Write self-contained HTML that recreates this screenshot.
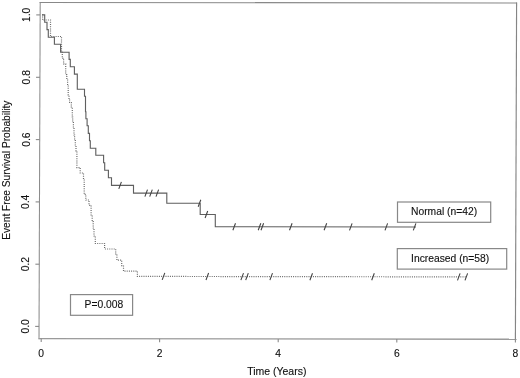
<!DOCTYPE html>
<html><head><meta charset="utf-8"><style>
html,body{margin:0;padding:0;background:#fff;}
svg{display:block;}
.t{font-family:"Liberation Sans",sans-serif;font-size:10.3px;fill:#111;stroke:#111;stroke-width:0.12px;}
.ax{stroke:#8a8a8a;stroke-width:1.1;fill:none;}
.sl{stroke:#5e5e5e;stroke-width:1.12;fill:none;}
.dl{stroke:#6a6a6a;stroke-width:1.2;fill:none;stroke-dasharray:1 1.2;}
.ck{stroke:#444;stroke-width:1.1;fill:none;}
.bx{stroke:#888;stroke-width:1.2;fill:#fff;}
</style></head><body>
<svg width="520" height="378" viewBox="0 0 520 378">
<defs><filter id="bl" x="0" y="0" width="1" height="1"><feGaussianBlur stdDeviation="0.35"/></filter></defs>
<rect width="520" height="378" fill="#fff"/>
<g filter="url(#bl)">
<rect width="520" height="378" fill="#fff"/>
<line x1="40.2" y1="2" x2="39.0" y2="339.3" stroke="#8c8c8c" stroke-width="1.05"/>
<line x1="38.6" y1="338.6" x2="516.6" y2="339.2" stroke="#9a9a9a" stroke-width="1.4"/>
<line x1="39.6" y1="2.5" x2="517" y2="3.0" stroke="#888" stroke-width="1.2"/>
<line x1="516.6" y1="2.4" x2="515.4" y2="339.3" stroke="#858585" stroke-width="1.15"/>
<line x1="36.25" y1="14.9" x2="40.15" y2="14.9" class="ax"/>
<text transform="translate(30.08,14.9) rotate(-90)" text-anchor="middle" class="t">1.0</text>
<line x1="36.03" y1="77.3" x2="39.93" y2="77.3" class="ax"/>
<text transform="translate(29.80,77.3) rotate(-90)" text-anchor="middle" class="t">0.8</text>
<line x1="35.81" y1="139.6" x2="39.71" y2="139.6" class="ax"/>
<text transform="translate(29.52,139.6) rotate(-90)" text-anchor="middle" class="t">0.6</text>
<line x1="35.59" y1="201.9" x2="39.49" y2="201.9" class="ax"/>
<text transform="translate(29.24,201.9) rotate(-90)" text-anchor="middle" class="t">0.4</text>
<line x1="35.37" y1="264.2" x2="39.27" y2="264.2" class="ax"/>
<text transform="translate(28.96,264.2) rotate(-90)" text-anchor="middle" class="t">0.2</text>
<line x1="35.15" y1="326.4" x2="39.05" y2="326.4" class="ax"/>
<text transform="translate(28.68,326.4) rotate(-90)" text-anchor="middle" class="t">0.0</text>
<line x1="41.2" y1="338.60" x2="41.2" y2="342.00" class="ax"/>
<text x="41.2" y="357" text-anchor="middle" class="t">0</text>
<line x1="159.6" y1="338.75" x2="159.6" y2="342.15" class="ax"/>
<text x="159.6" y="357" text-anchor="middle" class="t">2</text>
<line x1="278.2" y1="338.90" x2="278.2" y2="342.30" class="ax"/>
<text x="278.2" y="357" text-anchor="middle" class="t">4</text>
<line x1="396.8" y1="339.05" x2="396.8" y2="342.45" class="ax"/>
<text x="396.8" y="357" text-anchor="middle" class="t">6</text>
<line x1="515.4" y1="339.20" x2="515.4" y2="342.60" class="ax"/>
<text x="515.4" y="357" text-anchor="middle" class="t">8</text>
<text x="276.8" y="375.2" text-anchor="middle" class="t" style="font-size:10.5px">Time (Years)</text>
<text transform="translate(10.3,170.2) rotate(-90)" text-anchor="middle" class="t" style="font-size:10.2px">Event Free Survival Probability</text>
<path d="M42,14.9 H44.7 V22.3 H47 V29.6 H48.3 V37.2 H54.4 V44.3 H60.6 V52.3 H69.1 V59.4 H70.3 V66.8 H74.4 V74.1 H77.3 V89.2 H84.5 V96.3 H85.5 V111.7 H85.9 V118.8 H87.1 V125.8 H88.3 V133.4 H89.5 V140.8 H90.3 V148.2 H95.8 V155.3 H103.6 V162.7 H104.7 V170.3 H108.4 V177.7 H111.5 V185.4 H133.5 V193.1 H166.8 V203.3 H200.2 V214.5 H215.3 V226.7 L416,226.95" class="sl"/>
<path d="M42,14.9 H42.6 V20 H50.5 V36.5 H61.5 V52.4 H62.3 V58.3 H63.6 V63.9 H65.7 V74.6 H66.8 V80 H67.6 V86 H68.2 V95 H69 V99 H69.6 V102.5 H71.3 V107 H72.3 V117 H72.7 V122 H73.4 V127 H74 V135 H74.6 V140 H75.3 V145 H76 V151 H76.9 V167.6 H80.2 V173 H83.5 V180 H84.2 V194.4 H85.8 V200 H89 V205.3 H91.1 V216 H92.2 V221.7 H93.2 V228 H94 V236 H95.3 V243.5 H104.6 V249 H115.7 V254 H116.9 V260.2 H121.7 V265.6 H123.5 V271.2 H137.4 V276.4 L467,276.9" class="dl"/>
<path d="M118.8,188.9 L121.4,181.9 M144.9,196.6 L147.5,189.6 M149.7,196.6 L152.3,189.6 M156.0,196.6 L158.6,189.6 M198.2,206.8 L200.8,199.8 M205.1,218.0 L207.7,211.0 M232.9,230.2 L235.5,223.2 M258.2,230.3 L260.8,223.3 M261.0,230.3 L263.6,223.3 M289.5,230.3 L292.1,223.3 M324.1,230.3 L326.7,223.3 M349.5,230.4 L352.1,223.4 M385.0,230.4 L387.6,223.4 M413.3,230.4 L415.9,223.4 M162.2,279.9 L164.8,272.9 M206.0,280.0 L208.6,273.0 M240.9,280.1 L243.5,273.1 M245.7,280.1 L248.3,273.1 M269.9,280.1 L272.5,273.1 M309.9,280.2 L312.5,273.2 M371.7,280.3 L374.3,273.3 M457.5,280.4 L460.1,273.4 M465.0,280.4 L467.6,273.4" class="ck"/>
<rect x="397.5" y="202" width="93.2" height="20.3" class="bx"/>
<text x="411" y="214.6" class="t">Normal (n=42)</text>
<rect x="397.3" y="248.6" width="109.4" height="20.5" class="bx"/>
<text x="411.1" y="261.5" class="t">Increased (n=58)</text>
<rect x="70.5" y="294.6" width="62.1" height="20.7" class="bx"/>
<text x="84.6" y="308" class="t">P=0.008</text>
</g>
</svg>
</body></html>
